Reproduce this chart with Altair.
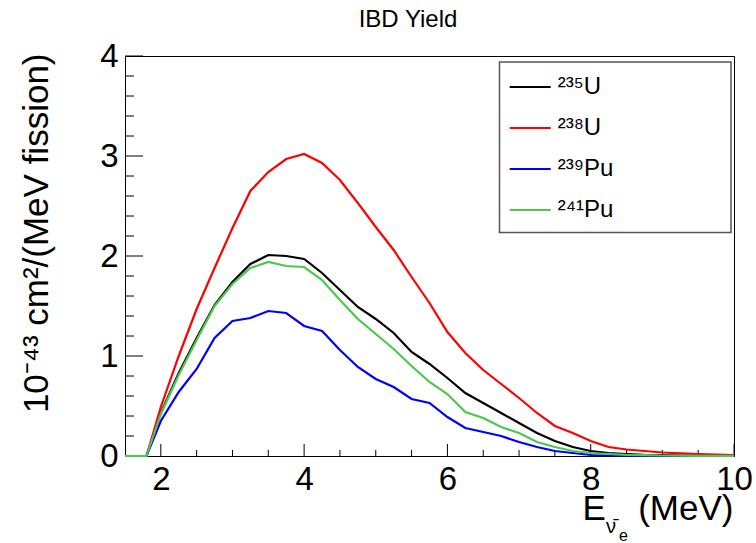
import altair as alt
import pandas as pd

# ---- data ----
energy = [1.5, 1.8, 2.0, 2.25, 2.5, 2.75, 3.0, 3.25, 3.5, 3.75, 4.0, 4.25, 4.5, 4.75,
          5.0, 5.25, 5.5, 5.75, 6.0, 6.25, 6.5, 6.75, 7.0, 7.25, 7.5, 7.75, 8.0, 8.25,
          8.5, 8.75, 9.0, 9.25, 9.5, 9.75, 10.0]
u235 = [0, 0, 0.43, 0.83, 1.18, 1.51, 1.74, 1.92, 2.01, 2.00, 1.97, 1.83, 1.66, 1.49,
        1.37, 1.23, 1.04, 0.92, 0.78, 0.63, 0.53, 0.43, 0.33, 0.23, 0.15, 0.09, 0.05, 0.03,
        0.02, 0.012, 0.008, 0.005, 0.003, 0.002, 0.001]
u238 = [0, 0, 0.49, 1.00, 1.47, 1.88, 2.28, 2.65, 2.84, 2.97, 3.02, 2.93, 2.76, 2.53,
        2.29, 2.06, 1.79, 1.53, 1.24, 1.03, 0.86, 0.72, 0.58, 0.43, 0.30, 0.23, 0.15, 0.09,
        0.065, 0.05, 0.035, 0.027, 0.02, 0.015, 0.01]
pu239 = [0, 0, 0.35, 0.64, 0.87, 1.18, 1.35, 1.38, 1.45, 1.43, 1.30, 1.25, 1.06, 0.89,
         0.77, 0.69, 0.57, 0.53, 0.39, 0.28, 0.24, 0.20, 0.14, 0.09, 0.05, 0.03, 0.01, 0.005,
         0.003, 0.002, 0.001, 0.001, 0, 0, 0]
pu241 = [0, 0, 0.42, 0.81, 1.16, 1.50, 1.72, 1.88, 1.94, 1.90, 1.89, 1.76, 1.56, 1.37,
         1.22, 1.07, 0.90, 0.74, 0.62, 0.44, 0.38, 0.29, 0.23, 0.14, 0.09, 0.05, 0.03, 0.02,
         0.012, 0.008, 0.005, 0.003, 0.002, 0.001, 0.001]

isotopes = ["²³⁵U", "²³⁸U", "²³⁹Pu", "²⁴¹Pu"]
colors = ["#000000", "#ff0000", "#0000ff", "#4cc94c"]
series = [u235, u238, pu239, pu241]

x_major = [2, 4, 6, 8, 10]
x_minor = [2.5, 3, 3.5, 4.5, 5, 5.5, 6.5, 7, 7.5, 8.5, 9, 9.5]
y_major = [0, 1, 2, 3, 4]
y_minor = [0.2, 0.4, 0.6, 0.8, 1.2, 1.4, 1.6, 1.8, 2.2, 2.4, 2.6, 2.8, 3.2, 3.4, 3.6, 3.8]

FONT = "Liberation Sans"
W, H = 609, 400

rows = []
for name, vals in zip(isotopes, series):
    for e, v in zip(energy, vals):
        rows.append({"energy": e, "yield": v, "isotope": name})
df = pd.DataFrame(rows)

xscale = alt.Scale(domain=[1.5, 10], nice=False, zero=False)
yscale = alt.Scale(domain=[0, 4], nice=False, zero=False)
cscale = alt.Scale(domain=isotopes, range=colors)

xaxis = alt.Axis(values=x_major, format="d", ticks=False, grid=False, labelFont=FONT,
                 labelFontSize=33, labelColor="black", labelPadding=7, labelBaseline="top",
                 domainColor="black", title=None, labelFlush=False)
yaxis = alt.Axis(values=y_major, format="d", ticks=False, grid=False, labelFont=FONT,
                 labelFontSize=33, labelColor="black", labelPadding=7, domainColor="black",
                 title="10⁻⁴³ cm²/(MeV fission)", titleFont=FONT, titleFontSize=35,
                 titleFontWeight="normal", titleColor="black", titleAngle=270,
                 titleAlign="right", titleBaseline="alphabetic", titleX=-78, titleY=-3,
                 labelFlush=False)

legend = alt.Legend(orient="none", legendX=383.7, legendY=9.5, title=None,
                    symbolType="stroke", symbolSize=1681, symbolStrokeWidth=2,
                    labelFont=FONT, labelFontSize=24, labelColor="black", labelOffset=6,
                    rowPadding=7, padding=0)

box = alt.Chart(pd.DataFrame({"k": [0]})).mark_rect(
    fill="white", stroke="#555555", strokeWidth=1.5
).encode(x=alt.value(374.5), x2=alt.value(606), y=alt.value(6), y2=alt.value(176.5))

lines = []
for name in isotopes:
    lines.append(
        alt.Chart(df).transform_filter(alt.datum.isotope == name).mark_line(
            strokeWidth=2.2, clip=False
        ).encode(
            x=alt.X("energy:Q", scale=xscale, axis=xaxis),
            y=alt.Y("yield:Q", scale=yscale, axis=yaxis),
            color=alt.Color("isotope:N", scale=cscale, legend=legend),
        )
    )

xt_major = alt.Chart(pd.DataFrame({"v": x_major})).mark_rule(color="black").encode(
    x=alt.X("v:Q", scale=xscale), y=alt.value(H), y2=alt.value(H - 12))
xt_minor = alt.Chart(pd.DataFrame({"v": x_minor})).mark_rule(color="black").encode(
    x=alt.X("v:Q", scale=xscale), y=alt.value(H), y2=alt.value(H - 6))
yt_major = alt.Chart(pd.DataFrame({"v": y_major})).mark_rule(color="black").encode(
    y=alt.Y("v:Q", scale=yscale), x=alt.value(0), x2=alt.value(18))
yt_minor = alt.Chart(pd.DataFrame({"v": y_minor})).mark_rule(color="black").encode(
    y=alt.Y("v:Q", scale=yscale), x=alt.value(0), x2=alt.value(9))


def label(text, x, y, size, align="left"):
    return alt.Chart(pd.DataFrame({"t": [text]})).mark_text(
        font=FONT, fontSize=size, align=align, baseline="alphabetic", color="black"
    ).encode(text="t:N", x=alt.value(x), y=alt.value(y))


title = label("IBD Yield", 283, -28.7, 24, "center")
xt_E = label("E", 457.5, 463.7, 35)
xt_nu = label("ν̄", 481, 477, 20)
xt_e = label("e", 494, 485, 16)
xt_unit = label("(MeV)", 608.5, 463.7, 35, "right")

chart = alt.layer(
    box, xt_major, xt_minor, yt_major, yt_minor, *lines,
    title, xt_E, xt_nu, xt_e, xt_unit
).properties(
    width=W, height=H,
    padding={"left": 125, "top": 56, "right": 22, "bottom": 87},
    autosize=alt.AutoSizeParams(type="none"),
    background="white",
).configure_view(stroke="black", strokeWidth=1)

chart.save("out.html", embed_options={"renderer": "svg", "actions": False})
